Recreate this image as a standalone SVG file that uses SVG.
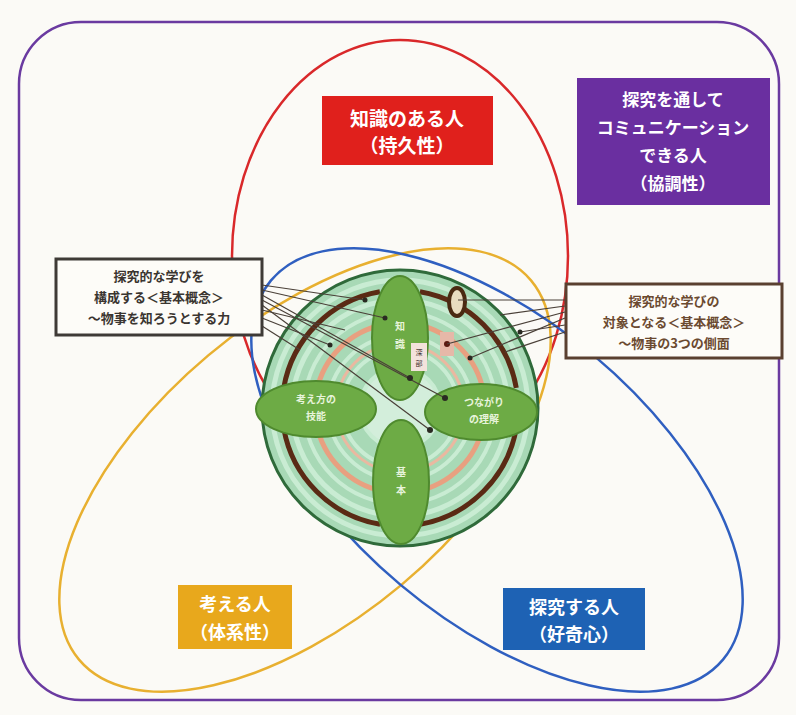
<svg xmlns="http://www.w3.org/2000/svg" width="796" height="715" viewBox="0 0 796 715">
  <style>
    .jp { font-family: "Noto Sans CJK JP", "Noto Sans", sans-serif; text-anchor: middle; }
    .white { fill: #ffffff; font-weight: bold; }
    .dark { fill: #3a3530; font-weight: bold; }
    .brown { fill: #6b4a30; font-weight: bold; }
    .petal { fill: #6dab45; stroke: #4f8a2e; stroke-width: 2; }
    .petaltext { fill: #e8f4dc; font-size: 10px; font-weight: bold; }
    .link { stroke: #4a4038; stroke-width: 1.2; fill: none; }
    .dot { fill: #2a2a22; }
  </style>

  <!-- page background -->
  <rect x="0" y="0" width="796" height="715" fill="#fbfaf6"/>

  <!-- outer frame -->
  <g id="frame">
    <rect x="19" y="22" width="760" height="678" rx="62" ry="62" fill="none" stroke="#6a3aa0" stroke-width="2.5"/>
  </g>

  <!-- the three overlapping sets -->
  <g id="sets" fill="none" stroke-width="2.5">
    <ellipse id="set-knowledge" cx="400" cy="256" rx="168" ry="216" stroke="#d9282a"/>
    <ellipse id="set-thinker" cx="305" cy="470" rx="295" ry="150" transform="rotate(-40 305 470)" stroke="#e8b030"/>
    <ellipse id="set-inquirer" cx="497" cy="470" rx="295" ry="150" transform="rotate(40 497 470)" stroke="#2f5fc0"/>
  </g>

  <!-- central circle with rings -->
  <g id="core">
    <circle cx="400" cy="408" r="138" fill="#a8d9b6" stroke="#2f6a3a" stroke-width="3"/>
    <circle cx="400" cy="408" r="128" fill="none" stroke="#c9ecd3" stroke-width="5"/>
    <circle cx="400" cy="408" r="108" fill="none" stroke="#c9ecd3" stroke-width="5"/>
    <circle cx="400" cy="408" r="96" fill="none" stroke="#c9ecd3" stroke-width="4"/>
    <circle cx="400" cy="408" r="72" fill="none" stroke="#c9ecd3" stroke-width="4"/>
    <circle cx="400" cy="408" r="58" fill="none" stroke="#c9ecd3" stroke-width="4"/>
    <circle cx="400" cy="408" r="40" fill="#d3eedb" stroke="#c9ecd3" stroke-width="4"/>
    <!-- dark brown ring, broken by the petals -->
    <circle cx="400" cy="408" r="118" fill="none" stroke="#5a2a14" stroke-width="5" stroke-dasharray="145 40.3" stroke-dashoffset="-20"/>
    <!-- salmon rings -->
    <circle cx="400" cy="408" r="85" fill="none" stroke="#e8a080" stroke-width="5" stroke-dasharray="100 33.5" stroke-dashoffset="-17"/>
    <circle cx="400" cy="408" r="64" fill="none" stroke="#eab8a0" stroke-width="3" stroke-dasharray="70 30.5" stroke-dashoffset="-15"/>
  </g>

  <!-- petals -->
  <g id="petal-top">
    <ellipse class="petal" cx="400" cy="338" rx="28" ry="62"/>
    <text class="jp petaltext" x="400" y="330">知</text>
    <text class="jp petaltext" x="400" y="348">識</text>
  </g>
  <g id="petal-bottom">
    <ellipse class="petal" cx="401" cy="482" rx="28" ry="62"/>
    <text class="jp petaltext" x="401" y="476">基</text>
    <text class="jp petaltext" x="401" y="494">本</text>
  </g>
  <g id="petal-left">
    <ellipse class="petal" cx="316" cy="409" rx="60" ry="28"/>
    <text class="jp petaltext" x="316" y="403">考え方の</text>
    <text class="jp petaltext" x="316" y="420">技能</text>
  </g>
  <g id="petal-right">
    <ellipse class="petal" cx="481" cy="412" rx="56" ry="28"/>
    <text class="jp petaltext" x="484" y="406">つながり</text>
    <text class="jp petaltext" x="484" y="423">の理解</text>
  </g>

  <!-- small tags inside the circle -->
  <g id="tag-ring">
    <ellipse cx="457" cy="302" rx="8" ry="14" fill="#e8dcc0" stroke="#4a2a12" stroke-width="4"/>
  </g>
  <g id="tag-a">
    <rect x="411" y="343" width="16" height="28" fill="#f3e2dc"/>
    <text class="jp" x="419" y="355" font-size="7" fill="#3a2a2a">深</text>
    <text class="jp" x="419" y="366" font-size="7" fill="#3a2a2a">部</text>
  </g>
  <g id="tag-b">
    <rect x="440" y="332" width="14" height="24" fill="#e6b8a8"/>
    <circle cx="447" cy="344" r="3" fill="#5a1a10"/>
  </g>

  <!-- connectors from the two note boxes into the circle -->
  <g id="connectors">
    <line class="link" x1="262" y1="285" x2="365" y2="300"/>
    <line class="link" x1="262" y1="290" x2="385" y2="318"/>
    <line class="link" x1="262" y1="295" x2="410" y2="378"/>
    <line class="link" x1="262" y1="300" x2="445" y2="398"/>
    <line class="link" x1="262" y1="305" x2="430" y2="430"/>
    <line class="link" x1="262" y1="310" x2="345" y2="330"/>
    <line class="link" x1="262" y1="318" x2="330" y2="345"/>
    <line class="link" x1="262" y1="326" x2="300" y2="350"/>
    <line class="link" x1="565" y1="300" x2="458" y2="300"/>
    <line class="link" x1="565" y1="306" x2="500" y2="315"/>
    <line class="link" x1="565" y1="312" x2="447" y2="344"/>
    <line class="link" x1="565" y1="318" x2="470" y2="358"/>
    <line class="link" x1="565" y1="325" x2="520" y2="332"/>
    <line class="link" x1="565" y1="332" x2="505" y2="352"/>
    <circle class="dot" cx="365" cy="300" r="2.5"/>
    <circle class="dot" cx="385" cy="318" r="2.5"/>
    <circle class="dot" cx="410" cy="378" r="3"/>
    <circle class="dot" cx="445" cy="398" r="3"/>
    <circle class="dot" cx="430" cy="430" r="3"/>
    <circle class="dot" cx="330" cy="345" r="2.5"/>
    <circle class="dot" cx="470" cy="358" r="2.5"/>
    <circle class="dot" cx="520" cy="332" r="2.5"/>
  </g>

  <!-- set labels -->
  <g id="label-knowledge">
    <rect x="322" y="96" width="171" height="69" fill="#e0201c"/>
    <text class="jp white" x="407" y="126" font-size="19">知識のある人</text>
    <text class="jp white" x="407" y="153" font-size="19">（持久性）</text>
  </g>
  <g id="label-communication">
    <rect x="577" y="78" width="193" height="127" fill="#6a2fa0"/>
    <text class="jp white" x="673" y="106" font-size="17">探究を通して</text>
    <text class="jp white" x="673" y="134" font-size="17">コミュニケーション</text>
    <text class="jp white" x="673" y="162" font-size="17">できる人</text>
    <text class="jp white" x="673" y="190" font-size="17">（協調性）</text>
  </g>
  <g id="label-thinker">
    <rect x="178" y="585" width="114" height="64" fill="#e8a81c"/>
    <text class="jp white" x="235" y="611" font-size="18">考える人</text>
    <text class="jp white" x="235" y="639" font-size="18">（体系性）</text>
  </g>
  <g id="label-inquirer">
    <rect x="503" y="588" width="142" height="62" fill="#1e62b4"/>
    <text class="jp white" x="574" y="614" font-size="18">探究する人</text>
    <text class="jp white" x="574" y="641" font-size="18">（好奇心）</text>
  </g>

  <!-- note boxes -->
  <g id="note-left">
    <rect x="56" y="259" width="206" height="76" fill="#fdfcf8" stroke="#3e3a36" stroke-width="3"/>
    <text class="jp dark" x="159" y="281" font-size="13">探究的な学びを</text>
    <text class="jp dark" x="159" y="302" font-size="13">構成する＜基本概念＞</text>
    <text class="jp dark" x="159" y="323" font-size="13">～物事を知ろうとする力</text>
  </g>
  <g id="note-right">
    <rect x="566" y="284" width="216" height="74" fill="#fdfcf8" stroke="#5a4030" stroke-width="3"/>
    <text class="jp brown" x="674" y="306" font-size="13">探究的な学びの</text>
    <text class="jp brown" x="674" y="327" font-size="13">対象となる＜基本概念＞</text>
    <text class="jp brown" x="674" y="348" font-size="13">～物事の3つの側面</text>
  </g>
</svg>
